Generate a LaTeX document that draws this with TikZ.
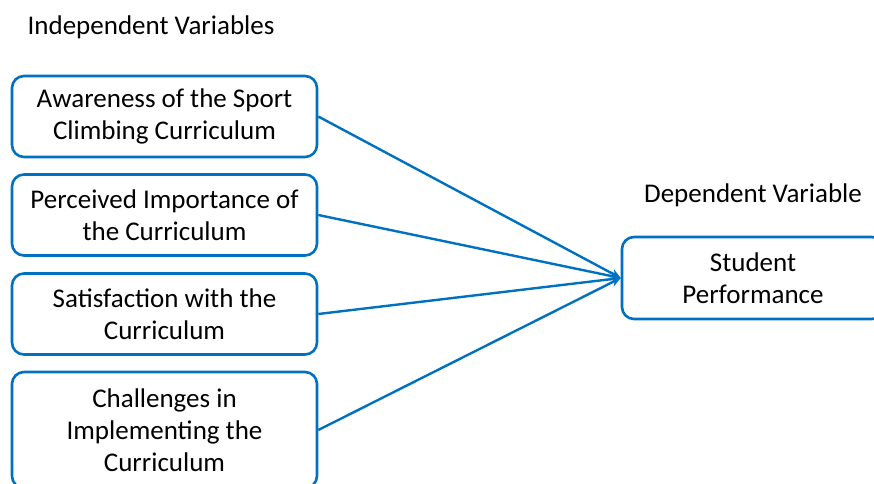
\documentclass[tikz,border=0pt]{standalone}
\usepackage{fontspec}
\setmainfont{Carlito}
\definecolor{VarBlue}{RGB}{0,112,192}
\usetikzlibrary{arrows.meta}

\begin{document}
\begin{tikzpicture}[x=1pt,y=-1pt,
    var/.style={draw=VarBlue,line width=2.6pt,rounded corners=12pt,fill=white,
                align=center,font=\fontsize{27}{32}\selectfont,
                minimum width=305pt,minimum height=81pt,inner sep=0pt},
    link/.style={draw=VarBlue,line width=2.4pt,-{Stealth[length=10pt,width=9pt]}}]
  \clip (0,0) rectangle (874,483);
  \useasboundingbox (0,0) rectangle (874,483);

  \node[font=\fontsize{27}{32}\selectfont] (indep) at (151,27) {Independent Variables};
  \node[font=\fontsize{27}{32}\selectfont] (dep) at (753,195) {Dependent Variable};

  \node[var] (aware) at (164.5,116.5) {Awareness of the Sport\\Climbing Curriculum};
  \node[var] (importance) at (164.5,215) {Perceived Importance of\\the Curriculum};
  \node[var] (satisf) at (164.5,314) {Satisfaction with the\\Curriculum};
  \node[var,minimum height=116pt] (challenge) at (164.5,430) {Challenges in\\Implementing the\\Curriculum};

  \node[var,minimum width=262pt,minimum height=82pt] (perf) at (753,278) {Student\\Performance};

  %\draw[link] (aware) -- (perf);
  \foreach \v in {aware,importance,satisf,challenge}
    \draw[link] (\v.east) -- (perf.west);
\end{tikzpicture}
\end{document}
